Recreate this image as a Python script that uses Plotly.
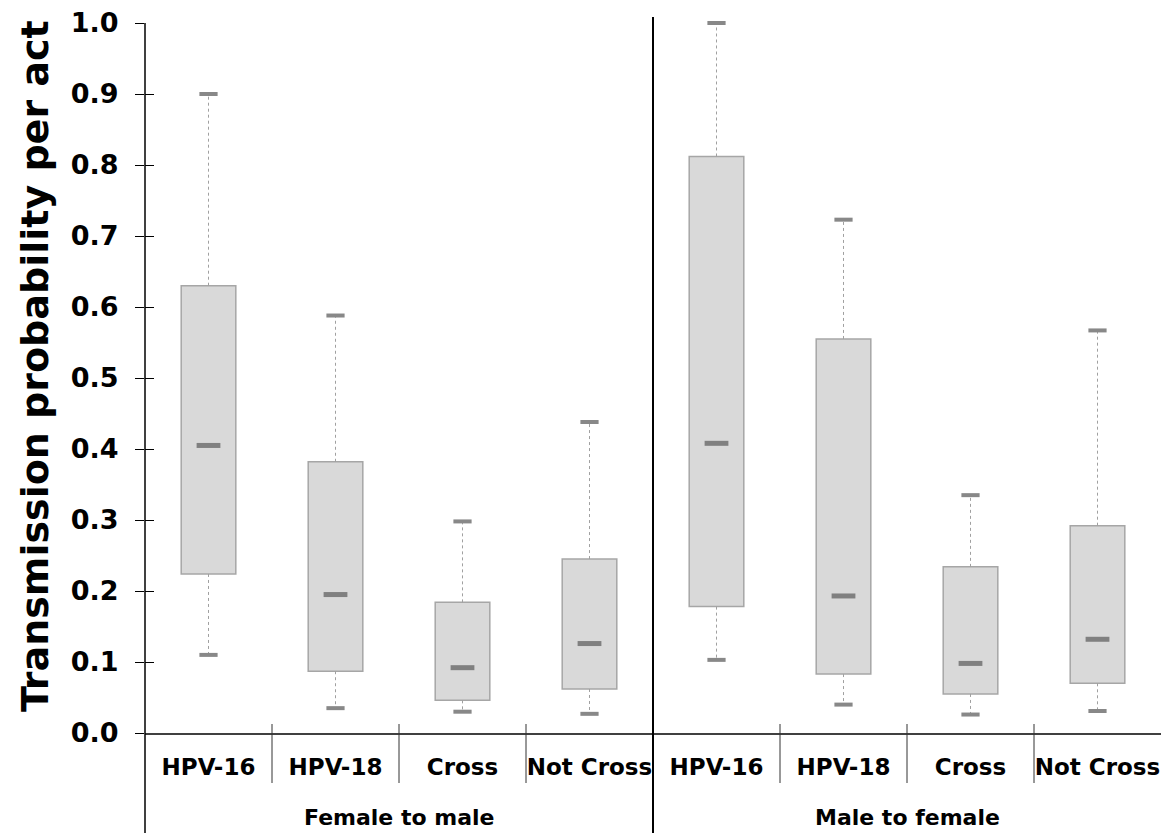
import plotly.graph_objects as go

# Category and group labels
groups = ["Female to male", "Male to female"]
categories = ["HPV-16", "HPV-18", "Cross", "Not Cross"]

# Box summary statistics per group (lower whisker, Q1, median, Q3, upper whisker)
f2m_low = [0.110, 0.035, 0.030, 0.027]
f2m_q1 = [0.224, 0.087, 0.046, 0.062]
f2m_med = [0.405, 0.195, 0.092, 0.126]
f2m_q3 = [0.630, 0.382, 0.184, 0.245]
f2m_high = [0.900, 0.588, 0.298, 0.438]

m2f_low = [0.103, 0.040, 0.026, 0.031]
m2f_q1 = [0.178, 0.083, 0.055, 0.070]
m2f_med = [0.408, 0.193, 0.098, 0.132]
m2f_q3 = [0.812, 0.555, 0.234, 0.292]
m2f_high = [1.000, 0.723, 0.335, 0.567]

y_ticks = [0.0, 0.1, 0.2, 0.3, 0.4, 0.5, 0.6, 0.7, 0.8, 0.9, 1.0]

low = f2m_low + m2f_low
q1 = f2m_q1 + m2f_q1
med = f2m_med + m2f_med
q3 = f2m_q3 + m2f_q3
high = f2m_high + m2f_high
labels = categories + categories
xpos = list(range(1, len(labels) + 1))

FONT = "DejaVu Sans"
BOX_FILL = "#d9d9d9"
BOX_EDGE = "#a6a6a6"
MARK = "#808080"

fig = go.Figure()

# Interquartile boxes
fig.add_trace(go.Bar(
    x=xpos, y=[b - a for a, b in zip(q1, q3)], base=q1, width=0.43,
    marker=dict(color=BOX_FILL, line=dict(color=BOX_EDGE, width=1.5)),
    showlegend=False, hoverinfo="skip",
))

# Dotted whiskers
wx, wy = [], []
for x, lo, a, b, hi in zip(xpos, low, q1, q3, high):
    wx += [x, x, None, x, x, None]
    wy += [b, hi, None, a, lo, None]
fig.add_trace(go.Scatter(
    x=wx, y=wy, mode="lines",
    line=dict(color="#a0a0a0", width=1, dash="dot"),
    showlegend=False, hoverinfo="skip", cliponaxis=False,
))

# Whisker caps
fig.add_trace(go.Scatter(
    x=xpos + xpos, y=low + high, mode="markers",
    marker=dict(symbol="line-ew", size=13, line=dict(color="#888888", width=4)),
    showlegend=False, hoverinfo="skip", cliponaxis=False,
))

# Medians
fig.add_trace(go.Scatter(
    x=xpos, y=med, mode="markers",
    marker=dict(symbol="line-ew", size=17, line=dict(color=MARK, width=5)),
    showlegend=False, hoverinfo="skip", cliponaxis=False,
))

# Empty trace so the inner-tick overlay axis is drawn
fig.add_trace(go.Scatter(x=[None], y=[None], yaxis="y2", showlegend=False, hoverinfo="skip"))

PLOT_H = 710.0


def py(px_below_axis):
    return -px_below_axis / PLOT_H


shapes = []
# y axis line extending below the category area
shapes.append(dict(type="line", xref="paper", yref="paper", x0=0, x1=0,
                   y0=py(100), y1=1, line=dict(color="#000000", width=1.5)))
# separators between categories
n = len(categories)
for i in range(1, len(labels)):
    bx = i + 0.5
    if i == n:
        shapes.append(dict(type="line", xref="x", yref="paper", x0=bx, x1=bx,
                           y0=py(100), y1=1 + 6 / PLOT_H,
                           line=dict(color="#000000", width=2)))
    else:
        shapes.append(dict(type="line", xref="x", yref="paper", x0=bx, x1=bx,
                           y0=py(50), y1=9 / PLOT_H,
                           line=dict(color="#333333", width=1)))

annotations = []
# Group labels
for gi, g in enumerate(groups):
    annotations.append(dict(
        text=g, xref="x", yref="paper", x=gi * n + (n + 1) / 2, y=py(84),
        showarrow=False, xanchor="center", yanchor="middle",
        font=dict(family=FONT, size=22, color="#000000", weight="bold"),
    ))
# Y axis title
annotations.append(dict(
    text="Transmission probability per act", textangle=-90,
    xref="paper", yref="paper", x=(35 - 145) / 1016.0, y=(733 - 366) / PLOT_H,
    showarrow=False, xanchor="center", yanchor="middle",
    font=dict(family=FONT, size=38, color="#000000", weight="bold"),
))

fig.update_layout(
    width=1161, height=833,
    margin=dict(l=145, r=0, t=23, b=100),
    paper_bgcolor="white", plot_bgcolor="white",
    showlegend=False,
    shapes=shapes, annotations=annotations,
    xaxis=dict(
        range=[0.5, len(labels) + 0.5], tickvals=xpos, ticktext=labels,
        ticks="", showgrid=False, zeroline=False,
        showline=True, linecolor="#404040", linewidth=1.5,
        tickfont=dict(family=FONT, size=23, color="#000000", weight="bold"),
        ticklabelstandoff=13,
    ),
    yaxis=dict(
        range=[0, 1], tickvals=y_ticks, tickformat=".1f",
        ticks="outside", ticklen=9, tickwidth=1, tickcolor="#000000",
        showgrid=False, zeroline=False, showline=False,
        tickfont=dict(family=FONT, size=27, color="#000000", weight="bold"),
        ticklabelstandoff=11,
    ),
    yaxis2=dict(
        overlaying="y", side="left", range=[0, 1], tickvals=y_ticks,
        ticks="inside", ticklen=9, tickwidth=1, tickcolor="#000000",
        showticklabels=False, showgrid=False, zeroline=False, showline=False,
    ),
)

fig.write_html("out.html")
